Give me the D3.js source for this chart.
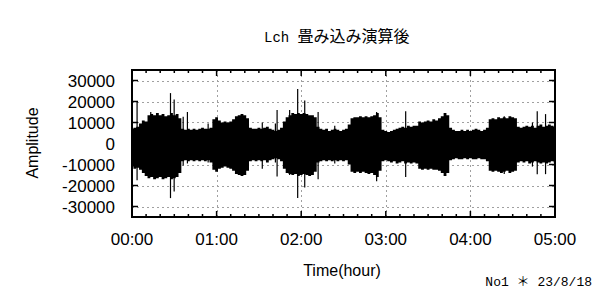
<!DOCTYPE html>
<html>
<head>
<meta charset="utf-8">
<script src="https://cdn.jsdelivr.net/npm/d3@7"></script>
<style>
  body { margin: 0; background: #fff; }
  svg { display: block; }
</style>
</head>
<body>
<div id="chart"></div>
<script>
// envelope of the waveform, one reading every 2 minutes (0..300 min)
const upperEnv = [
  7000, 7500, 8000, 9500, 11000, 10500, 13500, 14000, 13500, 14500,
  13500, 14000, 13000, 13500, 14500, 13500, 14000, 12000, 7000, 6500,
  7000, 6500, 7000, 6500, 7000, 7500, 7000, 7000, 7500, 11500,
  12500, 11000, 10000, 10500, 10000, 10500, 11500, 13000, 13500, 14000,
  13500, 12000, 7500, 7000, 7000, 7500, 7000, 7500, 8000, 7000,
  6500, 6000, 6500, 7500, 10500, 12500, 13500, 14500, 14000, 14500,
  14000, 14500, 14000, 13500, 13500, 12500, 8000, 7000, 6500, 7000,
  6000, 6500, 7000, 6500, 6000, 6500, 7000, 9000, 12000, 12500,
  12500, 13000, 12500, 13000, 12500, 13000, 13500, 14500, 12500, 6500,
  6000, 5500, 6000, 6500, 7000, 7500, 8000, 7500, 8500, 8000,
  8500, 8500, 10500, 10000, 10500, 11000, 10500, 11500, 11000, 12000,
  13000, 14500, 13500, 7500, 6500, 6000, 6000, 6500, 6000, 6500,
  6000, 6500, 7000, 6500, 6000, 6500, 7500, 11500, 12000, 11500,
  12500, 12000, 12500, 12000, 13000, 12500, 12000, 8000, 7500, 8000,
  8500, 8000, 8500, 7500, 8500, 9000, 8000, 8500, 9000, 8500,
  8000
];
const lowerEnv = [
  -11000, -12000, -11500, -12500, -14000, -15500, -16500, -16000, -17000, -16500,
  -16000, -17000, -16500, -16000, -17000, -16500, -16000, -14000, -8500, -8000,
  -8500, -8000, -8500, -8000, -8500, -8000, -8500, -8000, -9000, -12500,
  -13500, -12000, -11500, -11000, -11500, -12000, -13000, -14500, -15000, -15500,
  -15000, -13000, -8500, -8000, -8500, -8000, -8500, -8000, -9000, -8000,
  -7500, -7000, -7500, -8500, -12000, -14000, -14500, -15000, -14500, -15500,
  -15000, -14500, -15000, -15500, -15000, -13500, -9000, -8500, -8000, -8500,
  -8000, -8500, -8000, -8500, -8000, -8500, -8000, -10000, -13500, -14000,
  -13500, -14000, -13500, -14000, -14500, -14000, -15000, -16000, -13000, -8500,
  -8000, -8500, -9000, -8500, -9500, -9000, -8500, -9500, -9000, -9500,
  -9000, -9500, -12000, -12500, -12000, -12500, -12000, -12500, -12500, -13000,
  -14000, -15500, -14000, -8000, -7500, -7000, -7500, -7500, -7000, -7500,
  -7000, -7500, -7500, -7000, -7500, -7500, -8500, -13000, -13500, -13000,
  -13500, -14000, -13500, -13000, -14000, -13500, -13000, -9000, -8500, -9000,
  -8500, -9500, -9000, -8500, -9000, -9500, -9000, -9500, -9000, -8500,
  -9000
];
// isolated spikes: [minute, top, bottom]
const spikes = [
  [3.6, 19800, -17500], [13.3, 15000, -15500], [27.3, 24000, -26000],
  [29.9, 21000, -22800], [36.3, 12700, -10500], [39.3, 15000, -9500],
  [54.0, 9500, -9000], [92.4, 10000, -12000], [101.7, 9500, -9000],
  [102.9, 16000, -15700], [111.8, 16000, -15000], [117.5, 26000, -26000],
  [122.5, 20500, -21000], [132.0, 15000, -17000], [143.8, 8500, -9500],
  [173.5, 15000, -18000], [194.1, 15400, -16000], [264.0, 13000, -14500],
  [284.0, 10000, -11000], [287.4, 15400, -14600], [293.3, 14000, -14600]
];
const yTicks = [-30000, -20000, -10000, 0, 10000, 20000, 30000];
const xTicks = [0, 60, 120, 180, 240, 300];
const xTickLabels = ["00:00", "01:00", "02:00", "03:00", "04:00", "05:00"];
const sampleStep = 2; // minutes between envelope readings

(function () {
  const width = 600, height = 300;
  const mLeft = 132, mRight = 555, mTop = 70, mBottom = 217;

  const svg = d3.select("#chart").append("svg")
    .attr("width", width)
    .attr("height", height);

  const x = d3.scaleLinear().domain([0, 300]).range([mLeft, mRight]);
  const y = d3.scaleLinear().domain([-35000, 35000]).range([mBottom, mTop]);

  // grid
  svg.append("g").selectAll("line")
    .data(yTicks.filter(d => d !== 0))
    .enter().append("line")
    .attr("x1", mLeft).attr("x2", mRight)
    .attr("y1", d => Math.round(y(d)) + 0.5).attr("y2", d => Math.round(y(d)) + 0.5)
    .attr("stroke", "#a0a0a0").attr("stroke-dasharray", "2,3");
  svg.append("g").selectAll("line")
    .data(xTicks.slice(1, -1))
    .enter().append("line")
    .attr("x1", d => Math.round(x(d)) + 0.5).attr("x2", d => Math.round(x(d)) + 0.5)
    .attr("y1", mTop).attr("y2", mBottom)
    .attr("stroke", "#a0a0a0").attr("stroke-dasharray", "2,3");

  // waveform envelope (stepped, like the sampled trace)
  const env = upperEnv.map((u, i) => ({ t: i * sampleStep, hi: u, lo: lowerEnv[i] }));
  const area = d3.area()
    .curve(d3.curveStep)
    .x(d => x(d.t))
    .y0(d => y(d.lo))
    .y1(d => y(d.hi));
  svg.append("path")
    .datum(env)
    .attr("d", area)
    .attr("fill", "#000");

  svg.append("g").selectAll("line")
    .data(spikes)
    .enter().append("line")
    .attr("x1", d => x(d[0])).attr("x2", d => x(d[0]))
    .attr("y1", d => y(d[1])).attr("y2", d => y(d[2]))
    .attr("stroke", "#000").attr("stroke-width", 1.2);

  // ticks (gnuplot style, inward on all sides)
  const tk = svg.append("g").attr("stroke", "#000").attr("stroke-width", 1.5);
  yTicks.forEach(v => {
    tk.append("line").attr("x1", mLeft).attr("x2", mLeft + 6).attr("y1", y(v)).attr("y2", y(v));
    tk.append("line").attr("x1", mRight).attr("x2", mRight - 6).attr("y1", y(v)).attr("y2", y(v));
  });
  x.ticks(30).forEach(m => {
    const len = m % 60 === 0 ? 6 : 3;
    tk.append("line").attr("x1", x(m)).attr("x2", x(m)).attr("y1", mBottom).attr("y2", mBottom - len);
    tk.append("line").attr("x1", x(m)).attr("x2", x(m)).attr("y1", mTop).attr("y2", mTop + len);
  });

  // frame
  svg.append("rect")
    .attr("x", mLeft).attr("y", mTop)
    .attr("width", mRight - mLeft).attr("height", mBottom - mTop)
    .attr("fill", "none").attr("stroke", "#000").attr("stroke-width", 2);

  // tick labels
  const font = "'Liberation Sans', Arial, sans-serif";
  svg.append("g").selectAll("text")
    .data(yTicks)
    .enter().append("text")
    .attr("x", 115).attr("y", d => y(d) + 6)
    .attr("text-anchor", "end")
    .style("font-family", font).style("font-size", "17px")
    .text(d => d);
  svg.append("g").selectAll("text")
    .data(xTicks)
    .enter().append("text")
    .attr("x", d => x(d)).attr("y", 245)
    .attr("text-anchor", "middle")
    .style("font-family", font).style("font-size", "17px")
    .text((d, i) => xTickLabels[i]);

  // axis titles
  svg.append("text")
    .attr("x", 342).attr("y", 276)
    .attr("text-anchor", "middle")
    .style("font-family", font).style("font-size", "16px")
    .text("Time(hour)");
  svg.append("text")
    .attr("transform", "translate(38,143) rotate(-90)")
    .attr("text-anchor", "middle")
    .style("font-family", font).style("font-size", "16px")
    .text("Amplitude");

  // title
  const mono = "'Liberation Mono', monospace";
  const cjk = "'Noto Sans CJK JP', sans-serif";
  const title = svg.append("text")
    .attr("x", 264).attr("y", 42)
    .style("font-size", "16px");
  title.append("tspan")
    .style("font-family", mono).style("font-size", "14px")
    .text("Lch ");
  title.append("tspan")
    .style("font-family", cjk)
    .text("畳み込み演算後");

  // footer
  const foot = svg.append("text")
    .attr("x", 592).attr("y", 286)
    .attr("text-anchor", "end")
    .style("font-size", "13px");
  foot.append("tspan").style("font-family", mono).text("No1 ");
  foot.append("tspan").style("font-family", cjk).text("＊");
  foot.append("tspan").style("font-family", mono).text(" 23/8/18");
})();
</script>
</body>
</html>
